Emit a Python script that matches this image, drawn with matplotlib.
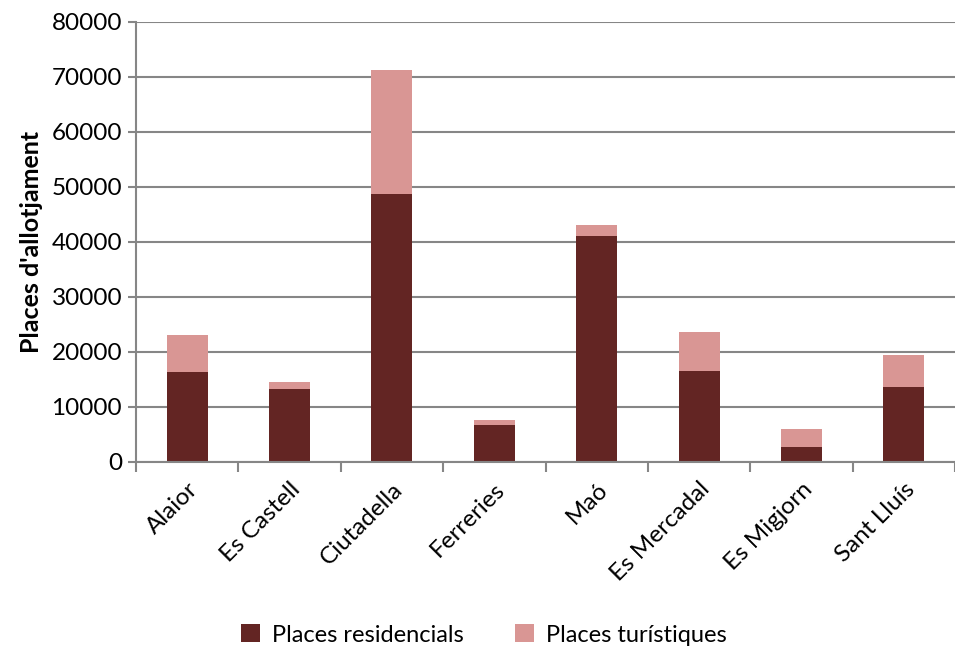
import matplotlib.pyplot as plt
import numpy as np

municipis = ["Alaior", "Es Castell", "Ciutadella", "Ferreries", "Maó",
             "Es Mercadal", "Es Migjorn", "Sant Lluís"]
residencials = [16300, 13300, 48700, 6700, 41050, 16450, 2750, 13600]
turistiques = [6700, 1200, 22650, 900, 2000, 7100, 3200, 5850]

plt.rcParams['font.family'] = ['Lato', 'DejaVu Sans']

fig = plt.figure(figsize=(9.55, 6.5), dpi=100)
ax = fig.add_axes([136 / 955, 1 - 461.7 / 650, (955 - 136) / 955, (461.7 - 22) / 650])

x = np.arange(len(municipis))
ax.bar(x, residencials, width=0.4, color="#632523", label="Places residencials", zorder=3)
ax.bar(x, turistiques, width=0.4, bottom=residencials, color="#D99694",
       label="Places turístiques", zorder=3)

ax.set_xlim(-0.5, len(municipis) - 0.5)
ax.set_ylim(0, 80000)
ax.set_yticks(range(0, 80001, 10000))
ax.tick_params(axis='y', labelsize=17.5, length=6, width=1.5, color="#868686", pad=4)
ax.yaxis.grid(True, color="#868686", linewidth=1.5, zorder=0)

ax.set_xticks(x)
ax.set_xticklabels(municipis, rotation=45, ha='right', rotation_mode='anchor', fontsize=17.5)
ax.tick_params(axis='x', length=0, pad=12)
ax.set_xticks(np.arange(-0.5, len(municipis), 1), minor=True)
ax.tick_params(axis='x', which='minor', length=7, width=1.5, color="#868686")

for side in ("top", "right"):
    ax.spines[side].set_visible(False)
for side in ("left", "bottom"):
    ax.spines[side].set_color("#868686")
    ax.spines[side].set_linewidth(1.5)
ax.spines["bottom"].set_zorder(4)

ax.set_ylabel("Places d'allotjament", fontsize=18, fontweight='bold', labelpad=6)

fig.legend(loc='center', bbox_to_anchor=(484 / 955, 1 - 635 / 650), ncol=2,
           frameon=False, fontsize=17, handlelength=0.8, handleheight=0.8,
           columnspacing=2.2, handletextpad=0.5)

fig.savefig("out.png", dpi=100)
